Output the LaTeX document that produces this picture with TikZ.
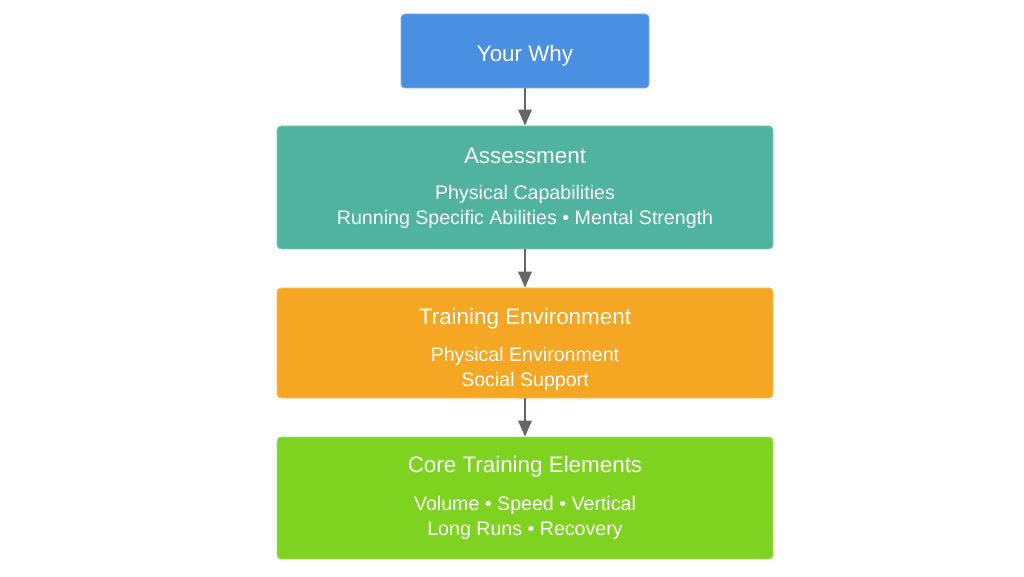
\documentclass[tikz,border=0pt]{standalone}
\usepackage{fontspec}
\setmainfont{Liberation Sans}
\usetikzlibrary{arrows.meta}
\definecolor{cblue}{HTML}{4A90E2}
\definecolor{cteal}{HTML}{4FB3A0}
\definecolor{corange}{HTML}{F5A623}
\definecolor{cgreen}{HTML}{7ED321}
\definecolor{carrow}{HTML}{666666}
\tikzset{
  box/.style={draw=#1!70!white, line width=0.6pt, fill=#1, rounded corners=3pt, inner sep=0pt},
  ttl/.style={text=white, font=\fontsize{16.8}{20}\selectfont, inner sep=0pt},
  body/.style={text=white, font=\fontsize{14.7}{18.75}\selectfont, align=center, inner sep=0pt},
  conn/.style={draw=carrow, line width=1.6pt, -{Triangle[length=12pt,width=10pt]}}
}
\begin{document}
\begin{tikzpicture}[x=0.75pt,y=-0.75pt]
\useasboundingbox (0,0) rectangle (1024,577);
\fill[white] (0,0) rectangle (1024,577);
\node[box=cblue, minimum width=186pt, minimum height=55.5pt] (why) at (525,51) {};
\node[ttl] (whyt) at (525,56) {Your Why};

\node[box=cteal, minimum width=372pt, minimum height=92.25pt] (ass) at (525,187.5) {};
\node[ttl] (asst) at (525,156) {Assessment};
\node[body] (assb) at (525,207) {Physical Capabilities\\Running Specific Abilities • Mental Strength};

\node[box=corange, minimum width=372pt, minimum height=82.5pt] (env) at (525,343) {};
\node[ttl] (envt) at (525,319) {Training Environment};
\node[body] (envb) at (525,369) {Physical Environment\\Social Support};

\node[box=cgreen, minimum width=372pt, minimum height=91.5pt] (core) at (525,498) {};
\node[ttl] (coret) at (525,467) {Core Training Elements};
\node[body] (coreb) at (525,518) {Volume • Speed • Vertical\\Long Runs • Recovery};

\draw[conn] (why.south) -- (ass.north);
\draw[conn] (ass.south) -- (env.north);
\draw[conn] (env.south) -- (core.north);
\end{tikzpicture}
\end{document}
